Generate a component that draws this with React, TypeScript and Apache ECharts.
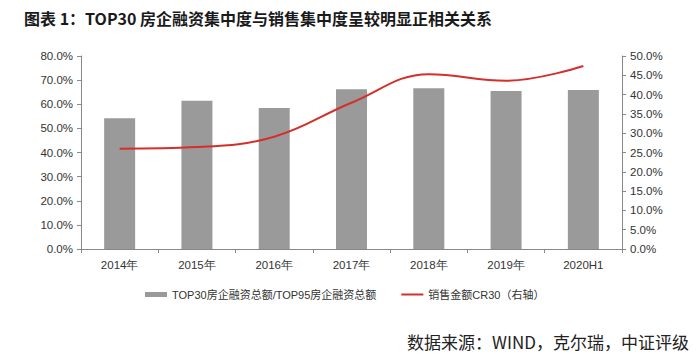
import React, { useEffect, useRef } from "react";
import * as echarts from "echarts";

const categories = ["2014年", "2015年", "2016年", "2017年", "2018年", "2019年", "2020H1"];
const financeShare = [54.2, 61.4, 58.4, 66.2, 66.6, 65.5, 65.9];
const salesCR30 = [26.0, 26.4, 29.1, 37.9, 45.3, 43.6, 47.4];
const barName = "TOP30房企融资总额/TOP95房企融资总额";
const lineName = "销售金额CR30（右轴）";

export default function App() {
  const ref = useRef<HTMLDivElement>(null);
  useEffect(() => {
    document.body.style.margin = "0";
    const chart = echarts.init(ref.current!, null, { renderer: "svg" });
    const axisLabel = { color: "#333", fontSize: 11.5, fontFamily: "Arial, 'Liberation Sans', sans-serif" };
    chart.setOption({
      animation: false,
      backgroundColor: "#fff",
      title: [
        {
          text: "图表 1：TOP30 房企融资集中度与销售集中度呈较明显正相关关系",
          left: 19,
          top: 5,
          textStyle: { fontSize: 16, fontWeight: "bold", color: "#1a1a1a", fontFamily: "'Noto Sans CJK SC', sans-serif" },
        },
        {
          text: "数据来源：WIND，克尔瑞，中证评级",
          right: 4,
          top: 328,
          textStyle: { fontSize: 17, fontWeight: "normal", color: "#222", fontFamily: "'Noto Sans CJK SC', sans-serif" },
        },
      ],
      legend: {
        left: 140,
        top: 284,
        itemGap: 25,
        itemWidth: 22,
        itemHeight: 5,
        textStyle: { fontSize: 11, color: "#333", fontFamily: "Arial, 'Noto Sans CJK SC', sans-serif" },
        data: [
          { name: barName, icon: "rect" },
          { name: lineName, icon: "path://M0,0H22V2H0Z" },
        ],
      },
      grid: { left: 81, right: 76, top: 56, bottom: 105 },
      xAxis: {
        type: "category",
        data: categories,
        axisLine: { lineStyle: { color: "#888" } },
        axisTick: { show: true, alignWithLabel: false, length: 4, lineStyle: { color: "#888" } },
        axisLabel: { ...axisLabel, margin: 10 },
      },
      yAxis: [
        {
          type: "value",
          min: 0,
          max: 80,
          interval: 10,
          splitLine: { show: false },
          axisLine: { show: true, lineStyle: { color: "#888" } },
          axisTick: { show: true, inside: false, length: 4, lineStyle: { color: "#888" } },
          axisLabel: { ...axisLabel, formatter: (v: number) => v.toFixed(1) + "%" },
        },
        {
          type: "value",
          min: 0,
          max: 50,
          interval: 5,
          position: "right",
          splitLine: { show: false },
          axisLine: { show: true, lineStyle: { color: "#888" } },
          axisTick: { show: true, length: 4, lineStyle: { color: "#888" } },
          axisLabel: { ...axisLabel, formatter: (v: number) => v.toFixed(1) + "%" },
        },
      ],
      series: [
        {
          name: barName,
          type: "bar",
          data: financeShare,
          barWidth: 31,
          itemStyle: { color: "#9a9a9a" },
          yAxisIndex: 0,
        },
        {
          name: lineName,
          type: "line",
          data: salesCR30,
          yAxisIndex: 1,
          smooth: 0.4,
          symbol: "none",
          lineStyle: { color: "#d42f2b", width: 2 },
          itemStyle: { color: "#d42f2b" },
        },
      ],
    });
    return () => chart.dispose();
  }, []);
  return <div ref={ref} style={{ width: 698, height: 354, position: "absolute", left: 0, top: 0 }} />;
}
